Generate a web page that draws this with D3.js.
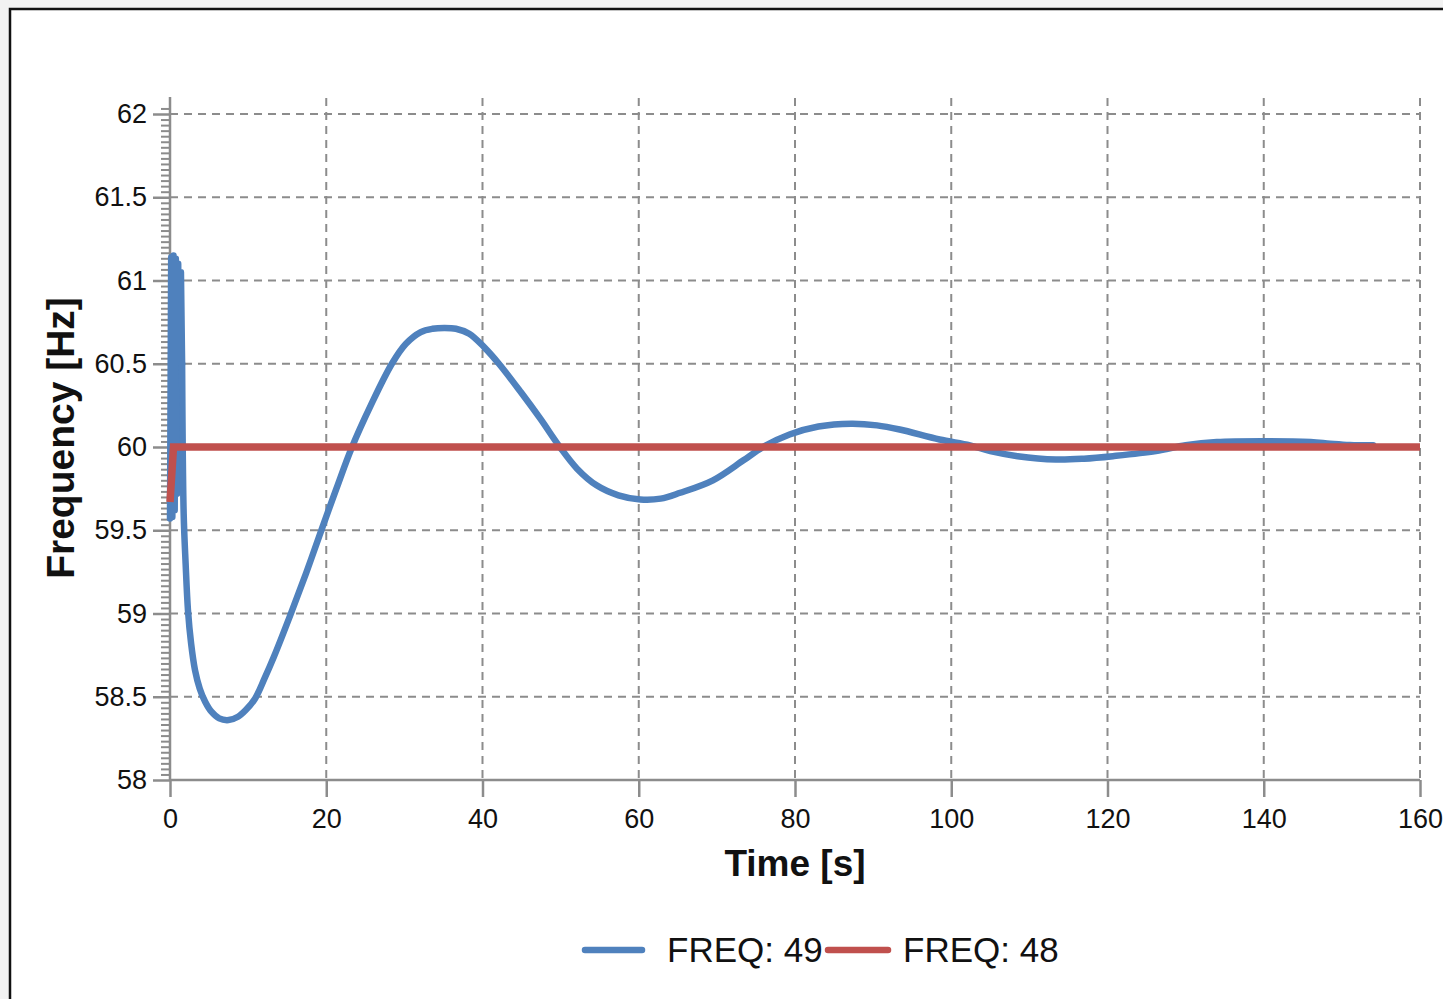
<!DOCTYPE html>
<html>
<head>
<meta charset="utf-8">
<script src="https://cdn.jsdelivr.net/npm/d3@7"></script>
<style>
  html, body { margin: 0; padding: 0; background: #f2f2f2; }
  svg { display: block; }
  text { font-family: "Liberation Sans", Arial, sans-serif; fill: #111; }
</style>
</head>
<body>
<svg id="chart" width="1443" height="999"></svg>
<script>
// Frequency response of bus 49 (time in seconds, frequency in Hz)
const freq49Time = [0, 0.15, 0.3, 0.45, 0.6, 0.75, 0.9, 1.05, 1.2, 1.4, 1.55, 1.75, 2.0, 2.3, 2.7, 3.2, 3.8, 4.5, 5.3, 6.3, 7.5, 8.7, 9.7, 10.9, 12.1, 13.3, 15.4, 17.4, 19.3, 21.3, 23.3, 25.7, 28.4, 30.2, 32.1, 33.6, 35.1, 36.6, 38.3, 40.2, 42.1, 44.9, 47.4, 49.9, 52.1, 54.6, 57.4, 60.2, 62.8, 65.3, 69.5, 73.4, 75.9, 79.3, 83.0, 87.2, 90.5, 93.4, 98.5, 102.4, 105.0, 108.5, 113.4, 117.0, 120.7, 126.2, 130.0, 134.0, 140.0, 146.0, 148.5, 151.0, 154.0];
const freq49Value = [59.57, 61.14, 59.58, 61.15, 59.62, 61.13, 59.72, 61.1, 59.85, 61.05, 60.5, 59.6, 59.3, 59.02, 58.82, 58.66, 58.55, 58.47, 58.41, 58.37, 58.36, 58.38, 58.42, 58.49, 58.61, 58.74, 58.99, 59.24, 59.49, 59.75, 60.0, 60.25, 60.5, 60.62, 60.69, 60.71, 60.715, 60.71, 60.68, 60.6, 60.5, 60.33, 60.17, 60.0, 59.87, 59.77, 59.71, 59.685, 59.69, 59.725, 59.8, 59.92, 60.0, 60.075, 60.123, 60.14, 60.13, 60.105, 60.045, 60.01, 59.975, 59.945, 59.925, 59.93, 59.945, 59.975, 60.01, 60.03, 60.035, 60.03, 60.02, 60.012, 60.01];

// Frequency response of bus 48
const freq48Time = [0, 0.45, 160];
const freq48Value = [59.67, 60.0, 60.0];

const xTicks = [0, 20, 40, 60, 80, 100, 120, 140, 160];
const yTicks = [58, 58.5, 59, 59.5, 60, 60.5, 61, 61.5, 62];
const yMinorPerMajor = 15;

const seriesNames = ["FREQ: 49", "FREQ: 48"];
const seriesColors = ["#4f81bd", "#c0504d"];

// end of the fast switching transient on bus 49
const transientEnd = 1.55;

const svg = d3.select("#chart");

// outer frame
svg.append("rect").attr("x", 10).attr("y", 9).attr("width", 1450).attr("height", 1010)
  .attr("fill", "#ffffff").attr("stroke", "#111").attr("stroke-width", 2.5);

const x = d3.scaleLinear().domain([0, 160]).range([170, 1420]);
const y = d3.scaleLinear().domain([58, 62]).range([780, 114]);

const gridColor = "#8c8c8c";
const fontFamily = "'Liberation Sans', Arial, sans-serif";

// grid
const grid = svg.append("g");
grid.selectAll("line.h").data(yTicks.slice(1)).join("line")
  .attr("x1", x(0)).attr("x2", x(160))
  .attr("y1", d => y(d)).attr("y2", d => y(d))
  .attr("stroke", gridColor).attr("stroke-width", 2).attr("stroke-dasharray", "8,6");
grid.selectAll("line.v").data(xTicks.slice(1)).join("line")
  .attr("x1", d => x(d)).attr("x2", d => x(d))
  .attr("y1", 98).attr("y2", y(58))
  .attr("stroke", gridColor).attr("stroke-width", 2).attr("stroke-dasharray", "8,6");

// x axis
const xAxis = d3.axisBottom(x).tickValues(xTicks).tickSize(17).tickPadding(12).tickSizeOuter(0);
const gx = svg.append("g").attr("transform", `translate(0,${y(58)})`).call(xAxis);
gx.select(".domain").remove();
gx.append("line").attr("x1", x(0)).attr("x2", x(160)).attr("stroke", gridColor).attr("stroke-width", 2.5);
gx.selectAll(".tick line").attr("stroke", gridColor).attr("stroke-width", 2.5);
gx.selectAll(".tick text").attr("font-size", 27).attr("fill", "#111").attr("font-family", fontFamily);

// y axis with minor ticks
const minorVals = d3.range(0, (yTicks.length - 1) * yMinorPerMajor + 2)
  .map(i => 58 + i * 0.5 / yMinorPerMajor)
  .filter((v, i) => i % yMinorPerMajor !== 0);
const gy = svg.append("g").attr("transform", `translate(${x(0)},0)`);
gy.append("g").call(d3.axisLeft(y).tickValues(minorVals).tickSize(9).tickFormat(""))
  .call(g => g.select(".domain").remove())
  .selectAll(".tick line").attr("stroke", gridColor).attr("stroke-width", 2);
const gyMajor = gy.append("g").call(d3.axisLeft(y).tickValues(yTicks).tickSize(17).tickPadding(6)
  .tickFormat(d => d3.format("")(d)));
gyMajor.select(".domain").remove();
gyMajor.selectAll(".tick line").attr("stroke", gridColor).attr("stroke-width", 2.5);
gyMajor.selectAll(".tick text").attr("font-size", 27).attr("fill", "#111").attr("font-family", fontFamily);
gy.append("line").attr("y1", 97).attr("y2", y(58) + 1).attr("stroke", gridColor).attr("stroke-width", 2.5);

// axis titles
svg.append("text").attr("x", 795).attr("y", 876).attr("text-anchor", "middle")
  .attr("font-size", 37).attr("font-weight", "bold").text("Time [s]");
svg.append("text").attr("transform", "translate(74,438) rotate(-90)").attr("text-anchor", "middle")
  .attr("font-size", 39).attr("font-weight", "bold").text("Frequency [Hz]");

// series
const blue = freq49Time.map((t, i) => [t, freq49Value[i]]);
const red = freq48Time.map((t, i) => [t, freq48Value[i]]);
const lineLinear = d3.line().x(d => x(d[0])).y(d => y(d[1])).curve(d3.curveLinear);
const lineSmooth = d3.line().x(d => x(d[0])).y(d => y(d[1])).curve(d3.curveCatmullRom.alpha(0.5));

const blueFast = blue.filter(d => d[0] <= transientEnd);
const blueSlow = blue.filter(d => d[0] >= transientEnd);
const gBlue = svg.append("g").attr("fill", "none").attr("stroke", seriesColors[0])
  .attr("stroke-width", 6.5).attr("stroke-linejoin", "round").attr("stroke-linecap", "round");
gBlue.append("path").datum(blueFast).attr("d", lineLinear);
gBlue.append("path").datum(blueSlow).attr("d", lineSmooth);

svg.append("path").datum(red).attr("d", lineLinear)
  .attr("fill", "none").attr("stroke", seriesColors[1]).attr("stroke-width", 7.5);

// legend
const legendItems = [
  { name: seriesNames[0], color: seriesColors[0], x0: 585, x1: 642, tx: 667 },
  { name: seriesNames[1], color: seriesColors[1], x0: 828, x1: 888, tx: 903 }
];
const lg = svg.append("g");
legendItems.forEach(it => {
  lg.append("line").attr("x1", it.x0).attr("x2", it.x1).attr("y1", 950).attr("y2", 950)
    .attr("stroke", it.color).attr("stroke-width", 6.5).attr("stroke-linecap", "round");
  lg.append("text").attr("x", it.tx).attr("y", 962).attr("font-size", 35).text(it.name);
});
</script>
</body>
</html>
